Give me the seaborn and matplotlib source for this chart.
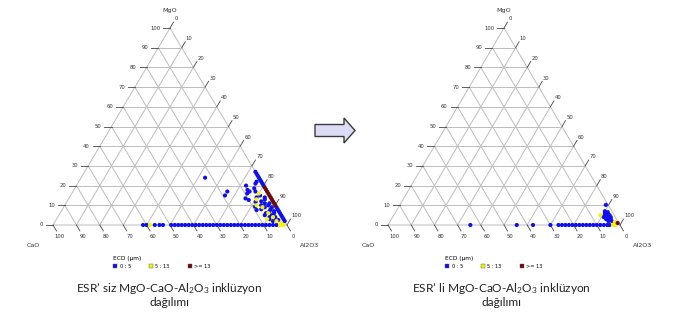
import numpy as np
import pandas as pd
import seaborn as sns
import matplotlib.pyplot as plt
from matplotlib.lines import Line2D
from matplotlib.patches import FancyArrow

# Veriler: yüzde MgO ve CaO, Al2O3 = 100 - MgO - CaO
siniflar = ["0 : 5", "5 : 13", ">= 13"]
renkler = {"0 : 5": "#1010ee", "5 : 13": "#f5f500", ">= 13": "#6a0a0a"}

# ESR'siz (sol)
sol_taban_cao_mavi = [61.5, 60, 56.5, 54.5, 53, 49.5, 48, 46.5, 45, 43.5, 42, 40.5,
                      39, 37.5, 36, 34.5, 33, 31.5, 30, 28.5, 27, 25.5, 24, 22.5, 21,
                      19.5, 18, 16.5, 15, 13.5, 12, 10.5, 9, 7.5, 6, 4.5]
sol_taban_cao_sari = [58.5, 3, 1.5]
sol_kenar_mgo_mavi = [27, 26, 25, 24, 23, 22, 21, 20, 9, 8, 7, 6, 5, 4, 3, 2]
sol_kenar_mgo_kirmizi = [19, 18, 17, 16, 15, 14, 13, 12, 11, 10]
sol_kume_mgo_mavi = [24, 17, 15, 20, 18.6, 17.8, 17, 17, 13.5, 12.7, 11.8, 9.3, 7.6, 16,
                     14, 15, 13, 12, 11, 10, 10, 9, 8, 8, 7, 6, 6, 5, 5, 4, 4, 3, 3,
                     2.5, 2, 9, 7, 11, 14, 21, 22]
sol_kume_cao_mavi = [23, 17, 19, 7.5, 4.7, 8, 7.5, 5, 11, 10, 7.5, 9, 9.2, 9,
                     6, 4, 3, 5, 4, 6, 3, 5, 3, 7, 4, 6, 2.5, 4, 7, 3, 5.5, 4, 6,
                     2.5, 5, 2, 2, 2, 2.5, 3, 2]
sol_kume_mgo_sari = [13, 9, 6, 4, 3, 2, 1, 10, 16]
sol_kume_cao_sari = [6.5, 6, 5, 4, 7, 3.5, 2, 8, 4]

# ESR'li (sağ)
sag_taban_cao_mavi = [64.5, 44.5, 37.5, 30, 26.5, 25, 23.5, 22, 20.5, 19, 17.5, 16,
                      14.5, 13, 11.5, 10, 8.5, 7, 5.5, 4.5]
sag_taban_cao_sari = [3, 2]
sag_kume_mgo_mavi = [10.2, 7, 6.5, 6, 5.5, 5, 5, 4.5, 4, 4, 3.5, 3, 3, 2.5, 2, 2]
sag_kume_cao_mavi = [1, 3, 2, 3.5, 2.5, 4, 2, 3, 5, 2, 3.5, 4.5, 2.5, 3.5, 2.5, 4]
sag_kume_mgo_sari = [5, 1.5]
sag_kume_cao_sari = [6, 1.5]
sag_kume_mgo_kirmizi = [1]
sag_kume_cao_kirmizi = [0.5]

H = np.sqrt(3) / 2
W_PX, H_PX = 680, 324


def tablo(parcalar):
    satirlar = []
    for mgo, cao, sinif in parcalar:
        for m, c in zip(mgo, cao):
            satirlar.append({"MgO": m, "CaO": c, "ECD": sinif})
    df = pd.DataFrame(satirlar)
    df["Al2O3"] = 100 - df["MgO"] - df["CaO"]
    df["x"] = df["Al2O3"] + df["MgO"] / 2
    df["y"] = df["MgO"] * H
    return df


sol_df = tablo([
    ([0] * len(sol_taban_cao_mavi), sol_taban_cao_mavi, "0 : 5"),
    (sol_kenar_mgo_mavi, [0] * len(sol_kenar_mgo_mavi), "0 : 5"),
    (sol_kume_mgo_mavi, sol_kume_cao_mavi, "0 : 5"),
    ([0] * len(sol_taban_cao_sari), sol_taban_cao_sari, "5 : 13"),
    (sol_kume_mgo_sari, sol_kume_cao_sari, "5 : 13"),
    (sol_kenar_mgo_kirmizi, [0] * len(sol_kenar_mgo_kirmizi), ">= 13"),
])
sag_df = tablo([
    ([0] * len(sag_taban_cao_mavi), sag_taban_cao_mavi, "0 : 5"),
    (sag_kume_mgo_mavi, sag_kume_cao_mavi, "0 : 5"),
    ([0] * len(sag_taban_cao_sari), sag_taban_cao_sari, "5 : 13"),
    (sag_kume_mgo_sari, sag_kume_cao_sari, "5 : 13"),
    (sag_kume_mgo_kirmizi, sag_kume_cao_kirmizi, ">= 13"),
])


def ucgen_eksen(fig, x0, x100, ytaban, ytepe, xlim=(-22, 112), ylim=(-40, 100)):
    sx = (x100 - x0) / 100
    sy = (ytaban - ytepe) / (100 * H)
    sol = x0 + xlim[0] * sx
    gen = (xlim[1] - xlim[0]) * sx
    ust = ytaban - ylim[1] * sy
    yuk = (ylim[1] - ylim[0]) * sy
    ax = fig.add_axes([sol / W_PX, 1 - (ust + yuk) / H_PX, gen / W_PX, yuk / H_PX])
    ax.set_xlim(*xlim)
    ax.set_ylim(*ylim)
    ax.axis("off")
    return ax


def izgara(ax):
    gri = "#bdbdbd"
    kw = dict(color=gri, lw=0.7, zorder=1)
    for v in range(10, 100, 10):
        ax.plot([v / 2, 100 - v / 2], [v * H, v * H], **kw)
        ax.plot([100 - v, (100 - v) / 2], [0, (100 - v) * H], **kw)
        ax.plot([v, v + (100 - v) / 2], [0, (100 - v) * H], **kw)
    ax.plot([0, 100, 50, 0], [0, 0, 100 * H, 0], **kw)

    tk = dict(color="#444444", lw=0.6, zorder=1)
    yz = dict(fontsize=3.8, color="#333333")
    L = 3
    for v in range(0, 101, 10):
        # MgO (sol kenar)
        px, py = v / 2, v * H
        ax.plot([px - L, px], [py, py], **tk)
        ax.text(px - L - 1.2, py, str(v), ha="right", va="center", **yz)
        # Al2O3 (sağ kenar)
        px, py = v + (100 - v) / 2, (100 - v) * H
        ex, ey = px + L * 0.5, py + L * H
        ax.plot([px, ex], [py, ey], **tk)
        ax.text(ex + 0.3, ey + 0.3, str(v), ha="left", va="bottom", **yz)
        # CaO (taban)
        px, py = 100 - v, 0
        ex, ey = px + L * 0.5, py - L * H
        ax.plot([px, ex], [py, ey], **tk)
        ax.text(ex + 1.2, ey - 1.2, str(v), ha="center", va="top", **yz)

    ad = dict(fontsize=4.6, color="#333333")
    ax.text(50, 94.5, "MgO", ha="center", va="center", **ad)
    ax.text(-8.5, -9, "CaO", ha="center", va="center", **ad)
    ax.text(109.8, -9, "Al2O3", ha="center", va="center", **ad)


plt.rcParams["mathtext.fontset"] = "custom"
plt.rcParams["mathtext.rm"] = "Lato"
plt.rcParams["mathtext.it"] = "Lato:italic"

fig = plt.figure(figsize=(6.8, 3.24), dpi=100)

ov = fig.add_axes([0, 0, 1, 1])
ov.set_xlim(0, W_PX)
ov.set_ylim(H_PX, 0)
ov.axis("off")

basliklar = ["ESR’ siz MgO-CaO-Al$_2$O$_3$ inklüzyon",
             "ESR’ li MgO-CaO-Al$_2$O$_3$ inklüzyon"]

for df, (x0, x100), cx, baslik in [(sol_df, (53, 287), 169, basliklar[0]),
                                   (sag_df, (388, 620), 501, basliklar[1])]:
    ax = ucgen_eksen(fig, x0, x100, 225, 28)
    izgara(ax)
    sns.scatterplot(data=df, x="x", y="y", hue="ECD", hue_order=siniflar,
                    palette=renkler, s=9, linewidth=0, legend=False,
                    ax=ax, zorder=3, clip_on=False)
    ax.set_xlim(-22, 112)
    ax.set_ylim(-40, 100)
    ax.axis("off")

    tut = [Line2D([], [], ls="", marker="s", markersize=3.2, markerfacecolor=renkler[s],
                  markeredgecolor="#555555", markeredgewidth=0.3) for s in siniflar]
    fig.legend(tut, siniflar, title="ECD (µm)", ncol=3, loc="upper left",
               bbox_to_anchor=((cx - 56) / W_PX, 1 - 256 / H_PX), frameon=False,
               fontsize=3.6, title_fontsize=4.2, alignment="left",
               handlelength=0.8, handletextpad=0.5, columnspacing=3.6,
               borderpad=0, borderaxespad=0)

    ov.text(cx, 288, baslik, ha="center", va="center", fontsize=8.6,
            family="Lato", color="#222222")
    ov.text(cx, 303, "dağılımı", ha="center", va="center", fontsize=8.6,
            family="Lato", color="#222222")

ov.add_patch(FancyArrow(315, 130.5, 29, 0, width=12, head_width=25, head_length=11,
                        length_includes_head=False, facecolor="#dcdcf6",
                        edgecolor="#3a3a3a", lw=1))

fig.savefig("out.png", dpi=100)
